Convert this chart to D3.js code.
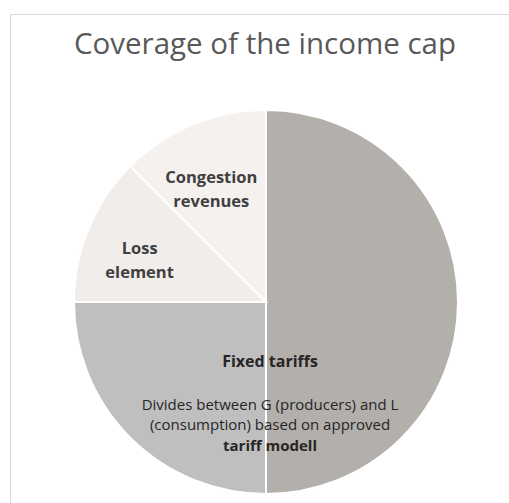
<!DOCTYPE html>
<html>
<head>
<meta charset="utf-8">
<script src="https://cdn.jsdelivr.net/npm/d3@7"></script>
<style>
  body { margin: 0; background: #fff; }
  svg { display: block; font-family: "Open Sans", Lato, sans-serif; }
</style>
</head>
<body>
<svg width="509" height="503"></svg>
<script>
// slices clockwise from 12 o'clock
var categories = ["Fixed tariffs (G)", "Fixed tariffs (L)", "Loss element", "Congestion revenues"];
var values = [50, 25, 12.5, 12.5];
var colours = ["#b3afab", "#bfbfbf", "#f1edea", "#f4f1ef"];
var sliceLabels = [null, null, ["Loss", "element"], ["Congestion", "revenues"]];
var title = "Coverage of the income cap";

var svg = d3.select("svg");

// chart frame
svg.append("rect")
  .attr("x", 10.5).attr("y", 14.5)
  .attr("width", 600).attr("height", 600)
  .attr("fill", "none")
  .attr("stroke", "#d9d9d9");

svg.append("text")
  .attr("x", 265).attr("y", 54)
  .attr("text-anchor", "middle")
  .attr("font-size", 29.5)
  .attr("fill", "#595959")
  .text(title);

var cx = 266, cy = 302, r = 192;

var pie = d3.pie().sort(null).value(function(d){ return d; });
var arcs = pie(values);
var arc = d3.arc().innerRadius(0).outerRadius(r);

var g = svg.append("g").attr("transform", "translate(" + cx + "," + cy + ")");

g.selectAll("path")
  .data(arcs)
  .enter().append("path")
  .attr("d", arc)
  .attr("fill", function(d, i){ return colours[i]; })
  .attr("stroke", "#fff")
  .attr("stroke-width", 2);

// labels for the small slices
var labelArc = d3.arc().innerRadius(r * 0.69).outerRadius(r * 0.69);
arcs.forEach(function(d, i){
  if (!sliceLabels[i]) return;
  var c = labelArc.centroid(d);
  var t = g.append("text")
    .attr("text-anchor", "middle")
    .attr("font-size", 16.5)
    .attr("font-weight", "bold")
    .attr("fill", "#404040");
  sliceLabels[i].forEach(function(line, k){
    t.append("tspan")
      .attr("x", c[0] - 4)
      .attr("y", c[1] + 3 + k * 24)
      .text(line);
  });
});

// note on the fixed tariffs
var note = svg.append("g").attr("text-anchor", "middle").attr("fill", "#262626");
note.append("text").attr("x", 270).attr("y", 367)
  .attr("font-size", 16).attr("font-weight", "bold").text("Fixed tariffs");
note.append("text").attr("x", 270).attr("y", 410)
  .attr("font-size", 15).text("Divides between G (producers) and L");
note.append("text").attr("x", 270).attr("y", 430)
  .attr("font-size", 15).text("(consumption) based on approved");
note.append("text").attr("x", 270).attr("y", 451)
  .attr("font-size", 15).attr("font-weight", "bold").text("tariff modell");
</script>
</body>
</html>
